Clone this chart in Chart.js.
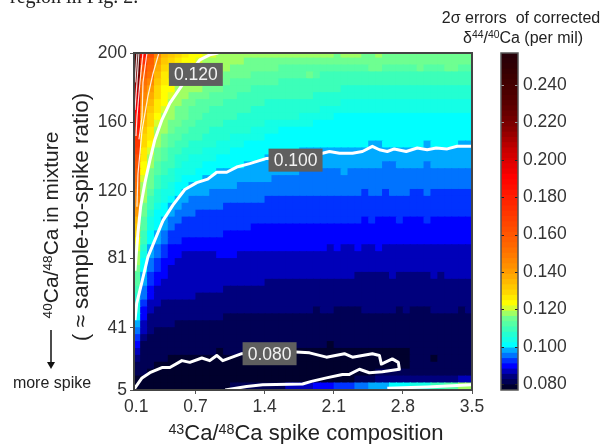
<!DOCTYPE html>
<html>
<head>
<meta charset="utf-8">
<script src="https://cdn.jsdelivr.net/npm/chart.js@4"></script>
<style>
  html, body { margin: 0; padding: 0; background: #fff; }
  body { width: 604px; height: 444px; overflow: hidden; position: relative; font-family: "Liberation Sans", Arial, sans-serif; color: #222; }
  canvas { position: absolute; top: 0; }
  #heat { left: 0; }
  #bar { left: 490px; }
  .txt { position: absolute; white-space: pre; line-height: 1; }
  .txt sup { font-size: 0.65em; vertical-align: baseline; position: relative; top: -0.45em; }
  .rot { transform: translate(-50%, -50%) rotate(-90deg); }
  .mid { transform: translate(-50%, -50%); }
</style>
</head>
<body>
<canvas id="heat" width="490" height="444"></canvas>
<canvas id="bar" width="114" height="444"></canvas>

<div class="txt" style="left:10px;top:-15px;font:20px 'Liberation Serif',serif;">region in Fig. 2.</div>
<div class="txt rot" style="left:50px;top:225px;font-size:21px;"><sup>40</sup>Ca/<sup>48</sup>Ca in mixture</div>
<div class="txt rot" style="left:81px;top:217px;font-size:22.5px;">( ≈ sample-to-spike ratio)</div>
<div class="txt mid" style="left:306px;top:433px;font-size:22px;"><sup>43</sup>Ca/<sup>48</sup>Ca spike composition</div>
<div class="txt mid" style="left:521px;top:18px;font-size:16px;">2σ errors  of corrected</div>
<div class="txt mid" style="left:523px;top:38px;font-size:16px;">δ<sup>44</sup>/<sup>40</sup>Ca (per mil)</div>
<div class="txt mid" style="left:52px;top:383px;font-size:16px;">more spike</div>
<svg style="position:absolute;left:45px;top:328px" width="12" height="44">
  <line x1="6" y1="2" x2="6" y2="35" stroke="#111" stroke-width="1.5"/>
  <polygon points="2,34 10,34 6,41" fill="#111"/>
</svg>

<script>
// axis ticks
const xTicks = [0.1, 0.7, 1.4, 2.1, 2.8, 3.5];
const yTicks = [5, 41, 81, 120, 160, 200];
const barTicks = [0.08, 0.10, 0.12, 0.14, 0.16, 0.18, 0.20, 0.22, 0.24];

// grid centres
const xVals = [0.11,0.18,0.25,0.32,0.39,0.46,0.53,0.60,0.67,0.74,0.81,0.88,0.95,1.02,1.09,1.16,1.23,1.30,1.37,1.44,1.51,1.58,1.65,1.72,1.79,1.86,1.93,2.00,2.07,2.14,2.21,2.28,2.35,2.42,2.49,2.56,2.63,2.70,2.77,2.84,2.91,2.98,3.05,3.12,3.19,3.26,3.33,3.40,3.47];
const yVals = [199,195,191,187,183,179,175,171,167,163,159,155,151,147,143,139,135,131,127,123,119,115,111,107,103,99,95,91,87,83,79,75,71,67,63,59,55,51,47,43,39,35,31,27,23,19,15,11,7];

// errors x 1000, one row per yVals entry
const errorRows = [
[236,185,163,146,135,132,129,126,123,123,121,121,118,118,118,118,118,118,118,118,118,118,118,118,118,118,118,118,118,115,118,118,118,115,115,118,115,115,115,115,115,115,115,115,115,115,115,115,115],
[230,174,157,140,132,129,126,123,123,121,118,118,118,118,118,118,115,115,115,115,115,115,115,115,115,115,115,115,115,115,115,115,115,115,115,115,115,115,115,115,115,115,115,115,115,115,115,115,115],
[225,163,154,137,129,126,126,123,121,118,118,118,118,118,115,115,115,115,115,115,115,112,112,112,112,112,112,112,112,112,112,112,112,112,115,115,112,112,112,112,112,115,112,112,112,115,115,112,112],
[219,157,151,135,126,126,123,121,118,118,118,118,118,115,115,115,115,112,112,112,112,112,112,112,112,115,112,109,109,109,109,109,109,109,109,109,109,109,109,109,109,109,109,109,109,109,109,109,109],
[213,151,146,132,126,123,121,118,118,118,118,115,115,115,112,112,112,112,112,112,112,109,109,109,109,109,109,109,109,109,109,109,109,109,109,109,109,109,109,109,109,109,109,109,109,109,109,109,109],
[208,149,140,129,123,123,118,118,118,118,115,115,115,112,112,112,112,109,109,109,109,109,109,109,109,109,109,109,109,109,106,106,106,106,106,106,106,106,106,106,106,106,106,106,106,106,106,106,106],
[202,146,137,129,123,121,118,118,115,115,115,112,112,112,112,109,109,109,109,109,109,109,109,109,109,109,106,106,106,106,106,106,106,106,106,106,106,106,106,106,106,106,106,106,106,106,106,106,106],
[197,143,135,126,123,118,118,115,115,112,112,112,112,109,109,109,109,109,109,106,106,106,106,106,106,106,106,106,106,106,104,104,104,104,104,104,104,104,104,104,104,104,104,104,104,104,104,104,104],
[191,140,132,126,121,118,115,115,112,112,112,109,109,109,109,109,109,106,106,106,106,106,106,106,106,106,106,104,104,104,104,104,104,104,104,104,104,104,104,104,104,104,104,104,104,104,104,104,104],
[185,137,129,123,118,118,115,115,112,112,109,109,109,109,109,106,106,106,106,106,106,106,106,106,104,104,104,104,104,101,101,101,101,101,101,101,101,101,101,101,101,101,101,101,101,101,101,101,101],
[182,135,129,121,118,115,115,112,112,109,109,109,109,106,106,106,106,106,106,104,104,104,104,104,104,104,101,101,101,101,101,101,101,101,101,101,101,101,101,101,101,101,101,101,101,101,101,101,101],
[180,132,126,118,118,115,112,112,109,109,109,106,106,106,106,106,106,104,104,104,104,101,101,101,101,101,101,101,101,101,101,101,101,101,101,101,101,101,101,101,101,101,101,101,101,101,101,101,101],
[174,129,126,118,115,112,112,109,109,109,106,106,106,106,104,104,104,104,104,101,101,101,101,101,101,101,101,101,101,101,101,101,101,101,101,101,101,101,101,101,101,101,101,101,101,101,101,101,101],
[171,129,123,118,115,112,109,109,106,106,106,106,104,104,104,104,101,101,101,101,101,101,101,101,101,101,101,101,101,101,101,101,101,101,98,98,101,101,101,101,101,101,98,101,101,101,101,98,98],
[168,126,121,115,112,109,109,106,106,106,104,104,104,104,101,101,101,101,101,101,101,101,101,101,98,98,98,98,98,98,98,98,98,98,98,98,98,98,98,98,98,98,98,98,98,98,98,98,98],
[163,126,118,115,112,109,106,106,104,104,104,104,101,101,101,101,101,101,101,98,98,98,98,98,98,98,98,98,98,98,98,98,98,98,98,98,98,98,98,98,98,98,98,98,98,98,98,98,98],
[160,123,118,112,109,109,106,104,104,104,101,101,101,101,101,101,98,98,98,98,98,98,98,98,98,98,98,98,98,98,98,98,98,98,98,98,95,95,98,98,98,98,95,98,98,98,98,98,98],
[157,123,115,112,109,106,104,104,104,101,101,101,98,98,98,98,98,98,98,98,98,98,98,98,95,95,95,95,95,95,98,95,95,95,95,95,95,95,95,95,95,95,95,95,95,95,95,95,95],
[154,121,115,109,106,106,104,101,101,101,98,98,98,98,98,98,98,98,98,98,95,95,95,95,95,95,95,95,95,95,95,95,95,95,95,95,95,95,95,95,95,95,95,95,95,95,95,95,95],
[151,118,115,109,106,104,101,101,98,98,98,98,98,98,98,95,95,95,95,95,95,95,95,95,95,95,95,95,95,95,95,95,95,95,95,95,95,95,95,95,95,95,95,95,95,95,95,95,95],
[149,118,112,106,104,104,101,98,98,98,98,95,95,95,95,95,95,95,95,95,95,95,95,95,95,95,95,95,95,95,95,95,95,92,95,95,92,95,95,95,92,92,95,92,92,92,92,92,92],
[146,118,109,106,104,101,98,98,95,95,95,95,95,95,95,95,95,95,95,92,92,92,92,92,92,92,92,92,92,92,92,92,92,92,92,92,92,92,92,92,92,92,92,92,92,92,92,92,92],
[143,115,109,104,101,98,98,95,95,95,95,95,95,92,92,92,92,92,92,92,92,92,92,92,92,92,92,92,92,92,92,92,92,92,92,92,92,92,92,92,92,92,92,92,92,92,92,92,92],
[140,115,106,101,101,98,95,95,95,92,92,92,92,92,92,92,92,92,92,92,92,92,92,92,92,92,92,92,92,92,92,92,92,92,92,92,92,92,92,92,92,92,92,92,92,92,92,92,92],
[135,112,104,101,98,95,95,92,92,92,92,92,92,92,92,92,92,92,92,92,92,92,92,92,92,92,92,92,92,92,92,92,92,90,92,90,90,90,92,90,90,90,92,90,90,90,90,90,90],
[132,112,104,101,98,95,92,92,92,92,92,92,92,92,92,92,92,90,90,90,90,90,90,90,90,90,90,90,90,90,90,90,90,90,90,90,90,90,90,90,90,90,90,90,90,90,90,90,90],
[129,109,101,98,95,92,92,92,92,92,92,92,92,90,90,90,90,90,90,90,90,90,90,90,90,90,90,90,90,90,90,90,90,90,90,90,90,90,90,90,90,90,90,90,90,90,90,90,90],
[123,109,101,98,95,92,92,90,90,90,90,90,90,90,90,90,90,90,90,90,90,90,90,90,90,90,90,90,90,90,90,90,90,90,90,90,90,90,90,90,90,90,90,90,90,90,90,90,90],
[121,106,98,95,92,90,90,90,90,90,90,90,90,90,90,90,90,90,90,90,90,90,90,90,90,90,90,90,87,90,87,87,90,87,87,90,87,87,87,87,87,87,87,87,87,87,87,87,87],
[118,104,98,95,92,90,90,87,87,87,87,87,90,90,90,87,87,87,87,87,87,87,87,87,87,87,87,87,87,87,87,87,87,87,87,87,87,87,87,87,87,87,87,87,87,87,87,87,87],
[118,101,95,92,90,90,87,87,87,87,87,87,87,87,87,87,87,87,87,87,87,87,87,87,87,87,87,87,87,87,87,87,87,87,87,87,87,87,87,87,87,87,87,87,87,87,87,87,87],
[115,101,95,92,90,87,87,87,87,87,87,87,87,87,87,87,87,87,87,87,87,87,87,87,87,87,87,87,87,87,87,87,87,87,87,87,87,87,87,87,87,87,87,87,87,87,87,87,87],
[112,98,92,90,90,87,87,87,87,87,87,87,87,87,87,87,87,87,87,87,87,87,87,87,87,87,87,87,87,87,87,87,84,84,84,84,84,87,84,84,84,84,84,87,84,87,87,87,87],
[112,98,92,90,87,87,87,87,87,87,87,87,87,87,87,87,87,87,87,84,84,84,84,84,84,84,84,84,84,84,84,84,84,84,84,84,84,84,84,84,84,84,84,84,84,84,84,84,84],
[109,95,90,87,87,87,87,87,87,87,87,87,87,84,84,84,84,84,84,84,84,84,84,84,84,84,84,84,84,84,84,84,84,84,84,84,84,84,84,84,84,84,84,84,84,84,84,84,84],
[106,95,90,87,87,87,87,87,87,84,84,84,84,84,84,84,84,84,84,84,84,84,84,84,84,84,84,84,84,84,84,84,84,84,84,84,84,84,84,84,84,84,84,84,84,84,84,84,84],
[104,92,87,87,84,84,84,84,84,84,84,84,84,84,84,84,84,84,84,84,84,84,84,84,84,84,84,84,84,84,84,84,84,84,84,84,84,84,84,84,84,84,84,84,84,84,84,84,84],
[104,90,87,84,84,84,84,84,84,84,84,84,84,84,84,84,84,84,84,84,84,84,84,84,84,84,81,84,84,81,81,81,81,84,84,84,84,84,81,84,81,81,81,84,84,84,84,81,84],
[101,90,84,84,84,84,84,84,84,84,84,84,84,81,81,81,81,81,81,81,81,81,81,81,81,81,81,81,81,81,81,81,81,81,81,81,81,81,81,81,81,81,81,81,81,81,81,81,81],
[98,87,84,84,84,84,81,81,81,81,81,81,81,81,81,81,81,81,81,81,81,81,81,81,81,81,81,81,81,81,81,81,81,81,81,81,81,81,81,81,81,81,81,81,81,81,81,81,81],
[95,87,84,81,81,81,81,81,81,81,81,81,81,81,81,81,81,81,81,81,81,81,81,81,81,81,81,81,81,81,81,81,81,81,81,81,81,81,81,81,81,81,81,81,81,81,81,81,81],
[92,84,81,81,81,81,81,81,81,81,81,81,81,81,81,81,81,81,81,81,81,81,81,81,81,81,81,81,81,81,81,81,81,81,81,81,81,81,81,81,81,81,81,81,81,81,81,81,81],
[90,81,81,81,81,81,81,81,81,81,81,81,81,81,81,81,81,81,81,81,81,81,81,81,81,81,81,81,78,81,81,81,81,81,81,81,81,81,81,81,81,81,81,81,81,81,81,81,81],
[87,81,81,81,81,81,81,81,81,81,81,81,78,81,81,81,81,81,81,81,81,78,78,78,78,78,78,78,78,78,78,78,78,78,78,78,78,78,78,78,81,81,81,81,81,81,81,81,81],
[84,81,81,81,81,78,78,78,78,78,78,78,78,78,78,78,78,78,78,78,78,78,78,78,78,78,78,78,78,78,78,78,78,78,78,78,78,78,78,78,81,81,81,78,81,81,81,81,81],
[81,81,81,78,78,78,78,78,78,78,78,78,78,78,78,78,78,78,78,78,78,78,78,78,78,78,78,78,78,78,78,78,78,78,78,78,78,78,78,78,81,81,81,81,81,81,81,81,81],
[81,81,78,78,78,78,78,78,78,78,78,78,78,78,78,78,78,78,78,78,78,78,78,78,78,78,78,78,78,78,78,78,78,78,78,81,81,81,81,81,81,81,81,81,81,81,81,81,81],
[78,78,78,78,78,78,78,78,78,78,78,78,78,78,78,78,78,78,78,78,78,78,78,78,78,78,78,78,78,78,78,78,81,81,81,84,84,84,84,84,84,84,84,84,84,84,84,87,87],
[78,78,78,78,78,78,78,78,78,78,78,78,78,78,81,81,81,81,81,81,81,81,87,87,87,87,90,90,90,92,92,92,95,95,98,98,98,101,101,101,104,104,104,109,109,112,112,118,118]
];

// contour lines as [composition, ratio]
const contour080 = [[0.08,5.6],[0.158,12],[0.238,15],[0.36,18],[0.44,18],[0.562,22],[0.642,21],[0.764,23.5],[0.844,22],[0.915,25],[0.976,22],[1.168,26],[1.45,27],[1.72,27],[1.854,26.5],[2.026,24],[2.208,26],[2.289,24],[2.491,26],[2.562,25],[2.582,20],[2.693,23],[2.754,21],[2.764,17],[2.592,15.5],[2.46,15],[2.36,17],[2.258,14],[2.188,14],[2.026,12],[1.874,10],[1.784,8.5],[1.38,8],[1.218,7],[1.0,5]];
const contour100 = [[0.087,45.5],[0.104,55],[0.155,67],[0.218,82],[0.319,96],[0.37,103],[0.471,112],[0.592,121],[0.713,125],[0.824,127],[0.915,131],[1.016,131],[1.117,134],[1.249,136],[1.42,139],[1.70,140],[1.986,142],[2.056,143],[2.158,142],[2.289,142],[2.39,143],[2.491,146],[2.562,144],[2.642,143],[2.713,144.5],[2.834,143],[2.946,145],[3.046,144],[3.137,145],[3.249,144.5],[3.35,146],[3.5,146]];
const contour100b = [[2.642,6],[3.046,6.7],[3.5,8]];
const contour120 = [[0.93,200],[0.844,198.9],[0.743,196],[0.642,188.4],[0.559,181],[0.44,171],[0.357,161],[0.289,150],[0.238,138],[0.188,125],[0.144,111],[0.117,96],[0.087,74]];
const contour140 = [[0.329,200],[0.269,188],[0.218,175],[0.158,155],[0.117,130],[0.107,111]];
const contour160 = [[0.208,200],[0.168,183],[0.158,163],[0.127,150]];
const contour180 = [[0.168,200],[0.137,183],[0.107,163],[0.097,152]];
const contour200 = [[0.127,200],[0.107,183],[0.087,167]];
const contour220 = [[0.107,200],[0.087,183]];

const contourLabels = [
  { text: "0.120", x: 0.703, y: 187.6 },
  { text: "0.100", x: 1.713, y: 138 },
  { text: "0.080", x: 1.45, y: 26 }
];

// colour bar levels, bottom to top
const barMin = 0.077, barMax = 0.257;
const levelColors = ["#00002d","#000055","#00007d","#0000b9","#0000ff","#0032ff","#0073ff","#00aaff","#00ffff","#14ffe6","#23ffd2","#3cffb9","#55ffa5","#6eff91","#a0ff64","#d7ff2d",
  "#ffff00","#ffeb00","#ffd700","#ffc800","#ffb900","#ffaa00","#ff9b00","#ff8f00","#ff8500","#ff7a00","#ff7000","#ff6600","#ff5e00","#ff5600","#ff4e00","#ff4600",
  "#ff3e00","#ff3600","#ff2e00","#ff2600","#ff1e00","#ff1600","#ff0e00","#ff0600","#ff0000","#f00000","#e60000","#dc0000","#d20000","#c80000","#b80000","#a80000",
  "#980000","#880000","#7c0000","#720000","#680000","#600000","#580000","#520000","#4c0000","#460000","#400000","#3c0000","#360002","#300004","#2c0006","#280008"];
const levelStep = (barMax - barMin) / levelColors.length;

function colorFor(v) {
  let i = Math.floor((v / 1000 - barMin) / levelStep);
  return levelColors[Math.max(0, Math.min(levelColors.length - 1, i))];
}

const cells = [];
errorRows.forEach((row, r) => {
  row.forEach((v, c) => {
    cells.push({ x: xVals[c], y: yVals[r], v: v });
  });
});

function line(points, width, color) {
  return {
    data: points.map(p => ({ x: p[0], y: p[1] })),
    showLine: true,
    borderColor: color,
    borderWidth: width,
    borderJoinStyle: "round",
    pointRadius: 0,
    order: 1
  };
}

const tickFont = { family: "'Liberation Sans', Arial, sans-serif", size: 17.5 };

// frame and the grey boxes on the contours
const framePlugin = {
  id: "frame",
  afterDatasetsDraw(chart) {
    const ctx = chart.ctx, a = chart.chartArea;
    const sx = chart.scales.x, sy = chart.scales.y;
    ctx.save();
    contourLabels.forEach(l => {
      const px = sx.getPixelForValue(l.x), py = sy.getPixelForValue(l.y);
      ctx.fillStyle = "#5f5f5f";
      ctx.fillRect(px - 27, py - 11.5, 54, 23);
      ctx.fillStyle = "#f2f2f2";
      ctx.font = "17.5px 'Liberation Sans', Arial, sans-serif";
      ctx.textAlign = "center";
      ctx.textBaseline = "middle";
      ctx.fillText(l.text, px, py + 1);
    });
    ctx.strokeStyle = "#444";
    ctx.lineWidth = 2;
    ctx.strokeRect(a.left, a.top, a.right - a.left, a.bottom - a.top);
    ctx.restore();
  }
};

new Chart(document.getElementById("heat"), {
  type: "scatter",
  data: {
    datasets: [
      line(contour080, 3, "#fff"),
      line(contour100, 3, "#fff"),
      line(contour100b, 3, "#fff"),
      line(contour120, 3, "#fff"),
      line(contour140, 1.2, "rgba(255,255,255,0.85)"),
      line(contour160, 1.2, "rgba(255,255,255,0.85)"),
      line(contour180, 1.2, "rgba(255,255,255,0.85)"),
      line(contour200, 1.2, "rgba(255,255,255,0.85)"),
      line(contour220, 1.2, "rgba(255,255,255,0.85)"),
      {
        data: cells,
        pointStyle: "rect",
        pointRadius: 5.7,
        pointBorderWidth: 0,
        pointBackgroundColor: c => colorFor(c.raw.v),
        clip: 0,
        order: 10
      }
    ]
  },
  options: {
    responsive: false,
    animation: false,
    layout: { padding: { top: 53, right: 18, left: 0, bottom: 0 } },
    plugins: { legend: { display: false }, tooltip: { enabled: false } },
    scales: {
      x: {
        type: "linear", min: 0.077, max: 3.5,
        afterBuildTicks: s => { s.ticks = xTicks.map(v => ({ value: v })); },
        afterFit: s => { s.height = 54; },
        border: { display: false },
        grid: { drawOnChartArea: false, tickLength: 4, tickColor: c => c.tick && c.tick.value === 0.1 ? "transparent" : "#555" },
        ticks: { color: "#333", font: tickFont, padding: 3, maxRotation: 0, autoSkip: false, callback: v => String(v) }
      },
      y: {
        type: "linear", min: 5, max: 200,
        afterBuildTicks: s => { s.ticks = yTicks.map(v => ({ value: v })); },
        afterFit: s => { s.width = 134; },
        border: { display: false },
        grid: { drawOnChartArea: false, tickLength: 4, tickColor: "#555" },
        ticks: { color: "#333", font: tickFont, padding: 3, autoSkip: false, callback: v => String(v) }
      }
    }
  },
  plugins: [framePlugin]
});

// colour bar
const barTickMarks = {
  id: "barTickMarks",
  afterDatasetsDraw(chart) {
    const ctx = chart.ctx, a = chart.chartArea, sy = chart.scales.y;
    ctx.save();
    barTicks.forEach(t => {
      const py = Math.round(sy.getPixelForValue(t)) + 0.5;
      ctx.strokeStyle = t >= 0.215 ? "#999" : "#222";
      ctx.lineWidth = 1;
      ctx.beginPath();
      ctx.moveTo(a.left, py); ctx.lineTo(a.left + 3, py);
      ctx.moveTo(a.right - 3, py); ctx.lineTo(a.right, py);
      ctx.stroke();
    });
    ctx.strokeStyle = "#555";
    ctx.lineWidth = 1.5;
    ctx.strokeRect(a.left, a.top, a.right - a.left, a.bottom - a.top);
    ctx.restore();
  }
};

new Chart(document.getElementById("bar"), {
  type: "bar",
  data: {
    labels: ["level"],
    datasets: levelColors.map((col, i) => ({
      data: [[barMin + i * levelStep - 0.0005, barMin + (i + 1) * levelStep]],
      backgroundColor: col,
      borderWidth: 0,
      barPercentage: 1,
      categoryPercentage: 1,
      grouped: false
    }))
  },
  options: {
    responsive: false,
    animation: false,
    layout: { padding: { top: 53, bottom: 54, left: 11, right: 0 } },
    plugins: { legend: { display: false }, tooltip: { enabled: false } },
    scales: {
      x: { display: false },
      y: {
        position: "right",
        min: barMin, max: barMax,
        afterBuildTicks: s => { s.ticks = barTicks.map(v => ({ value: v })); },
        afterFit: s => { s.width = 86; },
        border: { display: false },
        grid: { display: false, drawTicks: false },
        ticks: { color: "#333", font: tickFont, padding: 5, autoSkip: false, callback: v => v.toFixed(3) }
      }
    }
  },
  plugins: [barTickMarks]
});
</script>
</body>
</html>
